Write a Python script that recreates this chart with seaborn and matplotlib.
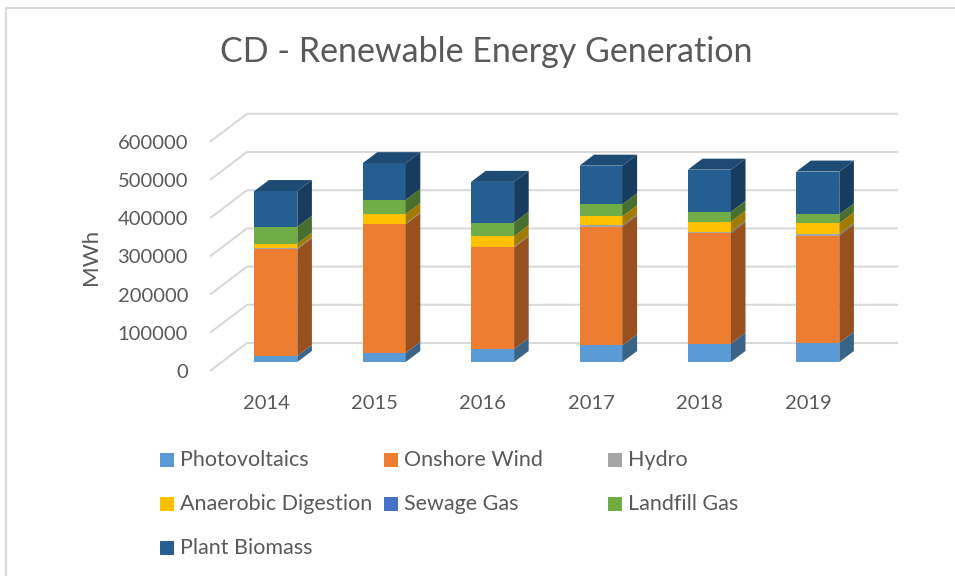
import numpy as np
import pandas as pd
import matplotlib.pyplot as plt
import matplotlib.colors as mcolors
from matplotlib.patches import Rectangle, Polygon
import seaborn as sns

# data (MWh)
years = ["2014", "2015", "2016", "2017", "2018", "2019"]
series = ["Photovoltaics", "Onshore Wind", "Hydro", "Anaerobic Digestion",
          "Sewage Gas", "Landfill Gas", "Plant Biomass"]
photovoltaics = [16000, 23500, 34000, 43500, 48000, 50000]
onshore_wind = [279000, 337000, 266000, 311000, 289000, 281000]
hydro = [2500, 2000, 2000, 3500, 4000, 4000]
anaerobic_digestion = [12000, 24500, 27000, 23500, 26000, 28000]
sewage_gas = [0, 0, 0, 0, 0, 0]
landfill_gas = [44500, 37500, 36000, 31500, 26000, 23500]
plant_biomass = [93500, 96000, 106500, 101000, 110500, 112000]
yticks = [0, 100000, 200000, 300000, 400000, 500000, 600000]

colors = ["#5B9BD5", "#ED7D31", "#A5A5A5", "#FFC000", "#4472C4", "#70AD47", "#255E91"]

df = pd.DataFrame({
    "Photovoltaics": photovoltaics,
    "Onshore Wind": onshore_wind,
    "Hydro": hydro,
    "Anaerobic Digestion": anaerobic_digestion,
    "Sewage Gas": sewage_gas,
    "Landfill Gas": landfill_gas,
    "Plant Biomass": plant_biomass,
}, index=years)
cum = df.cumsum(axis=1)
bottoms = cum - df

sns.set_theme(style="white")
plt.rcParams["font.family"] = ["Lato", "DejaVu Sans"]
txt = "#595959"

W, H = 955, 576
fig = plt.figure(figsize=(W / 100, H / 100), dpi=100)
ax = fig.add_axes([195 / W, 1 - 385 / H, 720 / W, 290 / H])

# fake 3d geometry, pixel sizes converted to data units
px_x = 108.4            # px per category
px_y = 38.2 / 100000    # px per MWh
bar_w = 43 / px_x
dx, dy = 14.6 / px_x, 11 / px_y          # bar depth
front_dy, back_dy = -9 / px_y, 19 / px_y  # floor front / back wall vs bar front
wall_x0, wall_dx = -0.607, 37 / px_x
grid_x1 = 5.74

# gridlines on side wall + back wall
for v in yticks:
    ax.plot([wall_x0, wall_x0 + wall_dx, grid_x1],
            [v + front_dy, v + back_dy, v + back_dy],
            color="#D9D9D9", lw=1.5, zorder=1, solid_capstyle="butt")

# front faces: cumulative bars drawn from the top series down
xpos = np.arange(len(years))
for name, col in reversed(list(zip(series, colors))):
    sns.barplot(x=xpos, y=cum[name].values, color=col, saturation=1,
                width=bar_w, native_scale=True, errorbar=None,
                linewidth=0, ax=ax, zorder=2)

def shade(c, f):
    r, g, b = mcolors.to_rgb(c)
    return (r * f, g * f, b * f)

# side faces and top face
for i in range(len(years)):
    xr = xpos[i] + bar_w / 2
    xl = xpos[i] - bar_w / 2
    for name, col in zip(series, colors):
        b, t = bottoms.iloc[i][name], cum.iloc[i][name]
        if t - b <= 0:
            continue
        ax.add_patch(Polygon([(xr, b), (xr + dx, b + dy), (xr + dx, t + dy), (xr, t)],
                             closed=True, fc=shade(col, 0.64), ec="none", zorder=2))
    top = cum.iloc[i][series[-1]]
    ax.add_patch(Polygon([(xl, top), (xl + dx, top + dy), (xr + dx, top + dy), (xr, top)],
                         closed=True, fc=shade(colors[-1], 0.8), ec="none", zorder=2))

ax.set_xlim((195 - 275.8) / px_x, (915 - 275.8) / px_x)
ax.set_ylim((362 - 385) / px_y, (362 - 95) / px_y)
ax.set_yticks([v + front_dy for v in yticks])
ax.set_yticklabels([str(v) for v in yticks], fontsize=14.5, color=txt)
ax.set_xticks(xpos - 0.09)
ax.set_xticklabels(years, fontsize=14.5, color=txt)
ax.tick_params(axis="y", length=0, pad=5)
ax.tick_params(axis="x", length=0, pad=7)
ax.set_xlabel("")
ax.set_ylabel("")
sns.despine(ax=ax, left=True, bottom=True)
ax.grid(False)

fig.text(91 / W, 1 - 257 / H, "MWh", rotation=90, ha="center", va="center",
         fontsize=16, color=txt)
fig.text(486 / W, 1 - 52 / H, "CD - Renewable Energy Generation", ha="center",
         va="center", fontsize=24.5, color=txt)

# legend, laid out row by row like the original
leg_x = [160, 384, 608]
leg_y = [460, 504, 548]
for k, (name, col) in enumerate(zip(series, colors)):
    cx, cy = leg_x[k % 3], leg_y[k // 3]
    fig.patches.append(Rectangle((cx / W, 1 - (cy + 7) / H), 14 / W, 14 / H,
                                 transform=fig.transFigure, fc=col, ec="none"))
    fig.text((cx + 20) / W, 1 - cy / H, name, ha="left", va="center",
             fontsize=15.5, color=txt)

# chart border
fig.patches.append(Rectangle((5.5 / W, -0.1), 1.1, 1.1 - 8 / H,
                             transform=fig.transFigure, fill=False,
                             ec="#D9D9D9", lw=1.5))

fig.savefig("out.png", dpi=100)
